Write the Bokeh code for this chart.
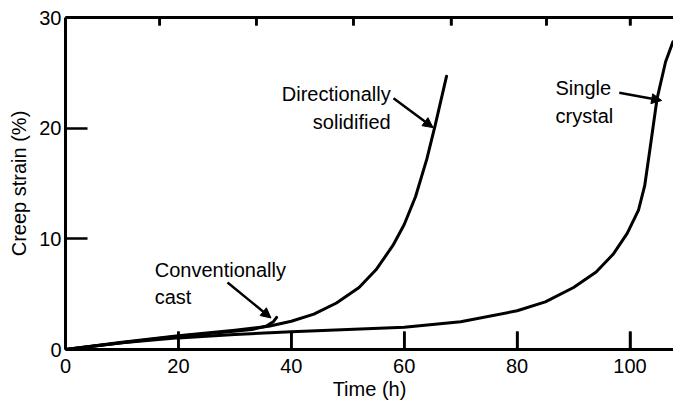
from bokeh.plotting import figure
from bokeh.models import Range1d, LinearAxis, FixedTicker, Arrow, NormalHead, Title, ColumnDataSource
from bokeh.core.properties import value
from bokeh.embed import file_html
from bokeh.resources import INLINE

# ---- data ----
cc_time = [0, 10, 20, 28, 33, 35.5, 36.8, 37.4]
cc_strain = [0, 0.62, 1.2, 1.55, 1.8, 2.1, 2.5, 2.9]

ds_time = [0, 10, 20, 30, 36, 40, 44, 48, 52, 55, 58, 60, 62, 64, 65.5, 67.5]
ds_strain = [0, 0.65, 1.25, 1.75, 2.1, 2.55, 3.2, 4.2, 5.6, 7.2, 9.4, 11.3, 13.8, 17.2, 20.3, 24.7]

sc_time = [0, 10, 20, 30, 40, 50, 60, 70, 80, 85, 90, 94, 97, 99.5, 101.5, 102.6, 103.5, 104.8, 106.3, 107.6]
sc_strain = [0, 0.6, 1.05, 1.35, 1.6, 1.8, 2.0, 2.5, 3.5, 4.3, 5.6, 7.0, 8.6, 10.5, 12.6, 14.8, 18.0, 22.7, 26.0, 27.8]

x_ticks = [0, 20, 40, 60, 80, 100]
y_ticks = [0, 10, 20, 30]
top_ticks = [16.7, 33.8, 51.0, 68.3, 85.2, 100.0]

# curve notes
note_text = ["Conventionally", "cast", "Directionally", "solidified", "Single", "crystal"]
note_x = [15.8, 15.8, 57.6, 57.6, 86.8, 86.8]
note_y = [7.14, 4.7, 23.1, 20.6, 23.6, 21.1]
note_align = ["left", "left", "right", "right", "left", "left"]
# arrows: (x_start, y_start, x_tip, y_tip)
arrows = [
    (28.7, 6.05, 36.4, 2.85),
    (58.1, 22.7, 65.1, 20.05),
    (98.1, 23.2, 105.6, 22.5),
]

FONT = "Liberation Sans"
X_MAX, Y_MAX = 107.7, 30
FRAME_H = 405 - 17 - 56
PX = Y_MAX / FRAME_H  # data units per pixel (vertical)

p = figure(width=673, height=405, output_backend="svg", toolbar_location=None,
           x_range=Range1d(0, X_MAX), y_range=Range1d(0, Y_MAX),
           min_border_left=65, min_border_right=0, min_border_top=17, min_border_bottom=56)
p.outline_line_color = None
p.xgrid.visible = False
p.ygrid.visible = False
p.background_fill_color = "white"

for ax in (p.xaxis[0], p.yaxis[0]):
    ax.axis_line_width = 3
    ax.axis_line_color = "black"
    ax.major_tick_line_width = 2.5
    ax.major_tick_line_color = "black"
    ax.major_tick_out = 0
    ax.minor_tick_line_color = None
    ax.major_label_text_font = FONT
    ax.major_label_text_font_size = "20px"
    ax.major_label_text_color = "black"
    ax.axis_label_text_font = FONT
    ax.axis_label_text_font_size = "20px"
    ax.axis_label_text_font_style = "normal"
    ax.axis_label_text_color = "black"

p.xaxis[0].ticker = FixedTicker(ticks=x_ticks)
p.xaxis[0].major_tick_in = 18
p.xaxis[0].major_label_standoff = 9
p.yaxis[0].ticker = FixedTicker(ticks=y_ticks)
p.yaxis[0].major_tick_in = 22
p.yaxis[0].major_label_standoff = 4
p.yaxis[0].axis_label = "Creep strain (%)"
p.yaxis[0].axis_label_standoff = 6

top = LinearAxis(ticker=FixedTicker(ticks=top_ticks),
                 major_label_overrides={t: "" for t in top_ticks})
top.axis_line_width = 3
top.axis_line_color = "black"
top.major_tick_line_width = 2.5
top.major_tick_line_color = "black"
top.major_tick_in = 8
top.major_tick_out = 0
top.minor_tick_line_color = None
top.major_label_text_font_size = "1px"
top.major_label_text_color = None
top.major_label_standoff = 0
p.add_layout(top, "above")

xt = Title(text="Time (h)", align="center", offset=16, standoff=0,
           text_font=FONT, text_font_size="20px", text_font_style="normal",
           text_color="black")
p.add_layout(xt, "below")

# inward tick marks on the bottom and top edges (reinforce the axis ticks)
tick_src = ColumnDataSource(dict(x=x_ticks, y0=[0.0] * len(x_ticks),
                                 y1=[18 * PX] * len(x_ticks)))
p.segment(x0="x", y0="y0", x1="x", y1="y1", source=tick_src,
          line_width=2.5, line_color="black")
top_src = ColumnDataSource(dict(x=top_ticks, y0=[float(Y_MAX)] * len(top_ticks),
                                y1=[Y_MAX - 8 * PX] * len(top_ticks)))
p.segment(x0="x", y0="y0", x1="x", y1="y1", source=top_src,
          line_width=2.5, line_color="black")

for xs, ys in ((cc_time, cc_strain), (ds_time, ds_strain), (sc_time, sc_strain)):
    p.line(xs, ys, line_width=3, line_color="black", line_cap="round", line_join="round")

src = ColumnDataSource(dict(x=note_x, y=note_y, t=note_text, a=note_align))
p.text(x="x", y="y", text="t", text_align="a", source=src,
       text_baseline="alphabetic", text_font=value(FONT),
       text_font_size="20px", text_color="black")

for x0, y0, x1, y1 in arrows:
    p.add_layout(Arrow(x_start=x0, y_start=y0, x_end=x1, y_end=y1, line_width=2.5,
                       line_color="black",
                       end=NormalHead(size=10, fill_color="black", line_color="black")))

open("out.html", "w").write(file_html(p, INLINE))
